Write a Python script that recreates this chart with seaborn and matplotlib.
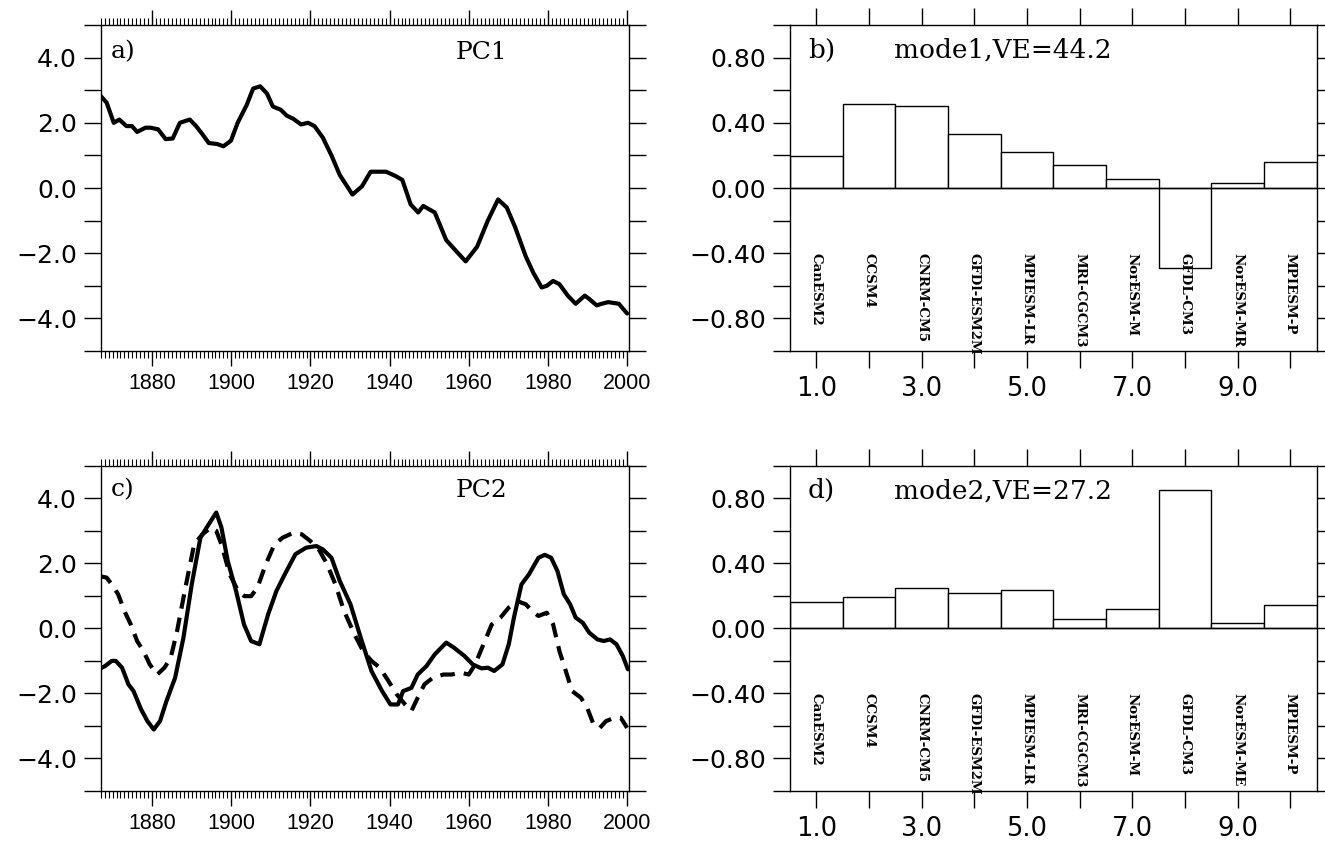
import matplotlib
matplotlib.use("Agg")
import matplotlib.pyplot as plt
from matplotlib.ticker import MultipleLocator, FixedLocator, FuncFormatter
import seaborn as sns
import pandas as pd

# ---------------- data ----------------
pc1_years = [1866.5, 1868.5, 1870.3, 1871.7, 1873.5, 1874.9, 1876.2, 1878.3, 1879.6, 1881.5,
             1883.4, 1885.2, 1887.0, 1889.5, 1891.1, 1892.7, 1894.3, 1896.4, 1898.0, 1899.9,
             1901.6, 1903.9, 1905.5, 1907.3, 1909.0, 1910.5, 1912.5, 1914.0, 1915.7, 1917.6,
             1919.4, 1921.0, 1923.1, 1925.3, 1927.4, 1930.6, 1933.0, 1935.2, 1939.1, 1941.3,
             1943.2, 1945.3, 1947.2, 1948.5, 1951.4, 1954.3, 1957.3, 1959.2, 1962.1, 1964.8,
             1967.4, 1969.6, 1971.7, 1974.4, 1976.3, 1978.4, 1979.7, 1981.3, 1982.9, 1985.0,
             1987.0, 1989.3, 1990.4, 1992.3, 1993.6, 1995.2, 1997.9, 2000.0]
pc1_vals = [2.89, 2.62, 2.0, 2.1, 1.9, 1.9, 1.72, 1.85, 1.85, 1.8,
            1.5, 1.52, 2.0, 2.1, 1.9, 1.65, 1.38, 1.35, 1.28, 1.45,
            2.0, 2.55, 3.05, 3.12, 2.9, 2.5, 2.4, 2.22, 2.12, 1.95,
            2.0, 1.9, 1.55, 1.0, 0.4, -0.2, 0.05, 0.5, 0.5, 0.38,
            0.25, -0.5, -0.75, -0.55, -0.75, -1.6, -2.0, -2.25, -1.8, -1.0,
            -0.35, -0.6, -1.2, -2.1, -2.6, -3.05, -3.0, -2.85, -2.95, -3.3,
            -3.55, -3.3, -3.4, -3.6, -3.55, -3.5, -3.55, -3.85]

pc2_years = [1866.5, 1868.1, 1869.8, 1870.8, 1872.4, 1874.0, 1875.3, 1877.2, 1878.8, 1880.4,
             1882.0, 1883.6, 1885.8, 1887.9, 1890.0, 1892.2, 1894.3, 1896.2, 1897.5, 1899.1,
             1901.2, 1903.2, 1905.0, 1907.1, 1909.3, 1911.4, 1913.5, 1916.2, 1918.9, 1921.5,
             1923.1, 1925.3, 1927.4, 1930.1, 1932.7, 1935.4, 1938.1, 1940.2, 1942.1, 1943.4,
             1945.5, 1947.1, 1949.3, 1951.4, 1954.3, 1956.2, 1958.9, 1961.0, 1963.2, 1964.8,
             1966.4, 1968.5, 1970.1, 1971.4, 1973.3, 1975.2, 1977.6, 1979.2, 1980.8, 1982.4,
             1984.0, 1985.6, 1987.0, 1988.8, 1990.4, 1992.5, 1994.1, 1995.7, 1997.3, 1998.9,
             2000.2]
pc2_vals = [-1.26, -1.16, -1.0, -1.0, -1.21, -1.72, -1.93, -2.49, -2.85, -3.11,
            -2.85, -2.24, -1.52, -0.29, 1.35, 2.79, 3.2, 3.56, 3.1, 2.07,
            1.15, 0.12, -0.39, -0.49, 0.43, 1.15, 1.66, 2.28, 2.48, 2.53,
            2.43, 2.17, 1.46, 0.74, -0.29, -1.31, -1.93, -2.34, -2.34, -1.93,
            -1.83, -1.42, -1.16, -0.8, -0.44, -0.59, -0.85, -1.11, -1.23, -1.21,
            -1.31, -1.11, -0.49, 0.33, 1.35, 1.66, 2.17, 2.26, 2.17, 1.76,
            1.05, 0.74, 0.33, 0.17, -0.13, -0.34, -0.39, -0.34, -0.49, -0.85,
            -1.26]

pc2b_years = [1866.5, 1868.5, 1869.8, 1871.4, 1873.0, 1874.6, 1876.2, 1877.8, 1879.4, 1881.3,
              1883.1, 1884.7, 1886.3, 1888.4, 1890.6, 1892.7, 1894.8, 1896.2, 1897.5, 1899.6,
              1901.7, 1903.3, 1905.0, 1906.6, 1908.7, 1910.9, 1913.0, 1915.7, 1917.8, 1919.9,
              1922.1, 1924.2, 1926.3, 1928.5, 1931.1, 1933.3, 1935.4, 1937.5, 1939.7, 1941.8,
              1943.9, 1945.5, 1947.1, 1948.8, 1950.9, 1953.6, 1955.7, 1957.8, 1960.0, 1961.6,
              1963.7, 1965.8, 1968.0, 1970.1, 1972.2, 1974.4, 1976.0, 1977.6, 1979.7, 1981.3,
              1982.9, 1984.5, 1986.1, 1988.3, 1989.9, 1991.5, 1993.1, 1994.7, 1996.8, 1998.4,
              2000.0]
pc2b_vals = [1.61, 1.56, 1.35, 1.05, 0.53, 0.12, -0.39, -0.7, -1.11, -1.42,
             -1.21, -0.9, -0.08, 1.25, 2.58, 2.89, 3.1, 3.0, 2.58, 1.66,
             1.15, 0.99, 0.99, 1.25, 1.97, 2.58, 2.79, 2.94, 2.89, 2.69,
             2.43, 1.97, 1.35, 0.53, -0.18, -0.7, -1.0, -1.21, -1.62, -2.03,
             -2.34, -2.54, -2.13, -1.72, -1.52, -1.42, -1.42, -1.36, -1.42, -1.11,
             -0.49, 0.12, 0.33, 0.64, 0.84, 0.74, 0.53, 0.38, 0.48, 0.12,
             -0.7, -1.31, -1.93, -2.13, -2.44, -2.95, -3.06, -2.85, -2.75, -2.75,
             -3.06]

model_idx = [1, 2, 3, 4, 5, 6, 7, 8, 9, 10]
models_b = ["CanESM2", "CCSM4", "CNRM-CM5", "GFDl-ESM2M", "MPIESM-LR", "MRI-CGCM3",
            "NorESM-M", "GFDL-CM3", "NorESM-MR", "MPIESM-P"]
models_d = ["CanESM2", "CCSM4", "CNRM-CM5", "GFDl-ESM2M", "MPIESM-LR", "MRI-CGCM3",
            "NorESM-M", "GFDL-CM3", "NorESM-ME", "MPIESM-P"]
mode1_vals = [0.195, 0.513, 0.502, 0.334, 0.219, 0.141, 0.057, -0.492, 0.033, 0.162]
mode2_vals = [0.162, 0.195, 0.25, 0.217, 0.234, 0.055, 0.121, 0.849, 0.031, 0.145]

year_ticks = [1880, 1900, 1920, 1940, 1960, 1980, 2000]
bar_tick_labels = ["1.0", "", "3.0", "", "5.0", "", "7.0", "", "9.0", ""]

# ---------------- style ----------------
sns.set_style("ticks")
plt.rcParams["font.family"] = ["DejaVu Sans"]
plt.rcParams["axes.linewidth"] = 1.0
plt.rcParams["axes.edgecolor"] = "black"
plt.rcParams["xtick.color"] = "black"
plt.rcParams["ytick.color"] = "black"
plt.rcParams["text.color"] = "black"
plt.rcParams["xtick.labelcolor"] = "black"
plt.rcParams["ytick.labelcolor"] = "black"

fig = plt.figure(figsize=(13.25, 8.42), dpi=100)
ax_a = fig.add_axes([0.0760, 0.5831, 0.3985, 0.3872])
ax_b = fig.add_axes([0.5962, 0.5831, 0.3975, 0.3872])
ax_c = fig.add_axes([0.0760, 0.0606, 0.3985, 0.3863])
ax_d = fig.add_axes([0.5962, 0.0606, 0.3975, 0.3863])

serif = ["DejaVu Serif"]


def style_time_axis(ax):
    ax.set_xlim(1867, 2000.4)
    ax.set_ylim(-5, 5)
    ax.xaxis.set_major_locator(FixedLocator(year_ticks))
    ax.xaxis.set_minor_locator(MultipleLocator(1))
    ax.yaxis.set_major_locator(MultipleLocator(2))
    ax.yaxis.set_minor_locator(MultipleLocator(1))
    ax.yaxis.set_major_formatter(FuncFormatter(lambda v, p: f"{v:.1f}".replace("-", "\u2212")))
    ax.tick_params(axis="x", which="major", direction="out", top=True, bottom=True,
                   length=11, width=1, labelsize=15.5, pad=5, colors="black")
    ax.tick_params(axis="x", which="minor", direction="out", top=True, bottom=True,
                   length=5, width=0.8, colors="black")
    ax.tick_params(axis="y", which="both", direction="out", left=True, right=True,
                   length=12, width=1, labelsize=18, pad=5, colors="black")
    for lab in ax.get_xticklabels():
        lab.set_fontfamily("Liberation Sans")
    ax.set_xlabel("")
    ax.set_ylabel("")
    for s in ax.spines.values():
        s.set_visible(True)
        s.set_linewidth(1.0)
        s.set_color("black")


def style_bar_axis(ax, labels):
    ax.set_xlim(0.5, 10.5)
    ax.set_ylim(-1.0, 1.0)
    ax.xaxis.set_major_locator(FixedLocator(model_idx))
    ax.set_xticklabels(bar_tick_labels)
    ax.yaxis.set_major_locator(MultipleLocator(0.4))
    ax.yaxis.set_minor_locator(MultipleLocator(0.2))
    ax.yaxis.set_major_formatter(FuncFormatter(lambda v, p: f"{v:.2f}".replace("-", "\u2212")))
    ax.tick_params(axis="x", which="major", direction="out", top=True, bottom=True,
                   length=12, width=1, labelsize=18.5, pad=6, colors="black")
    ax.tick_params(axis="y", which="both", direction="out", left=True, right=True,
                   length=12, width=1, labelsize=18, pad=5, colors="black")
    ax.axhline(0, color="black", lw=1.0)
    for xi, name in zip(model_idx, labels):
        ax.text(xi, -0.40, name, rotation=-90, ha="center", va="top",
                fontsize=9.6, fontweight="bold", family=serif)
    ax.set_xlabel("")
    ax.set_ylabel("")
    for s in ax.spines.values():
        s.set_visible(True)
        s.set_linewidth(1.0)
        s.set_color("black")


# panel a
sns.lineplot(x=pc1_years, y=pc1_vals, ax=ax_a, color="black", lw=3.0, sort=False)
style_time_axis(ax_a)
ax_a.text(0.019, 0.917, "a)", transform=ax_a.transAxes, ha="left", va="center",
          fontsize=18, family=serif)
ax_a.text(0.722, 0.917, "PC1", transform=ax_a.transAxes, ha="center", va="center",
          fontsize=18, family=serif)

# panel c
sns.lineplot(x=pc2_years, y=pc2_vals, ax=ax_c, color="black", lw=3.0, sort=False)
sns.lineplot(x=pc2b_years, y=pc2b_vals, ax=ax_c, color="black", lw=3.0, sort=False,
             linestyle=(0, (3.5, 2.2)))
style_time_axis(ax_c)
ax_c.text(0.019, 0.925, "c)", transform=ax_c.transAxes, ha="left", va="center",
          fontsize=18, family=serif)
ax_c.text(0.722, 0.925, "PC2", transform=ax_c.transAxes, ha="center", va="center",
          fontsize=18, family=serif)

# panel b
df_b = pd.DataFrame({"idx": model_idx, "val": mode1_vals})
sns.barplot(data=df_b, x="idx", y="val", ax=ax_b, native_scale=True, width=1.0,
            color="white", edgecolor="black", linewidth=1.0, saturation=1)
style_bar_axis(ax_b, models_b)
ax_b.text(0.034, 0.923, "b)", transform=ax_b.transAxes, ha="left", va="center",
          fontsize=19, family=serif)
ax_b.text(0.197, 0.923, "mode1,VE=44.2", transform=ax_b.transAxes, ha="left", va="center",
          fontsize=19, family=serif)

# panel d
df_d = pd.DataFrame({"idx": model_idx, "val": mode2_vals})
sns.barplot(data=df_d, x="idx", y="val", ax=ax_d, native_scale=True, width=1.0,
            color="white", edgecolor="black", linewidth=1.0, saturation=1)
style_bar_axis(ax_d, models_d)
ax_d.text(0.034, 0.923, "d)", transform=ax_d.transAxes, ha="left", va="center",
          fontsize=19, family=serif)
ax_d.text(0.197, 0.923, "mode2,VE=27.2", transform=ax_d.transAxes, ha="left", va="center",
          fontsize=19, family=serif)

fig.savefig("out.png", dpi=100)
